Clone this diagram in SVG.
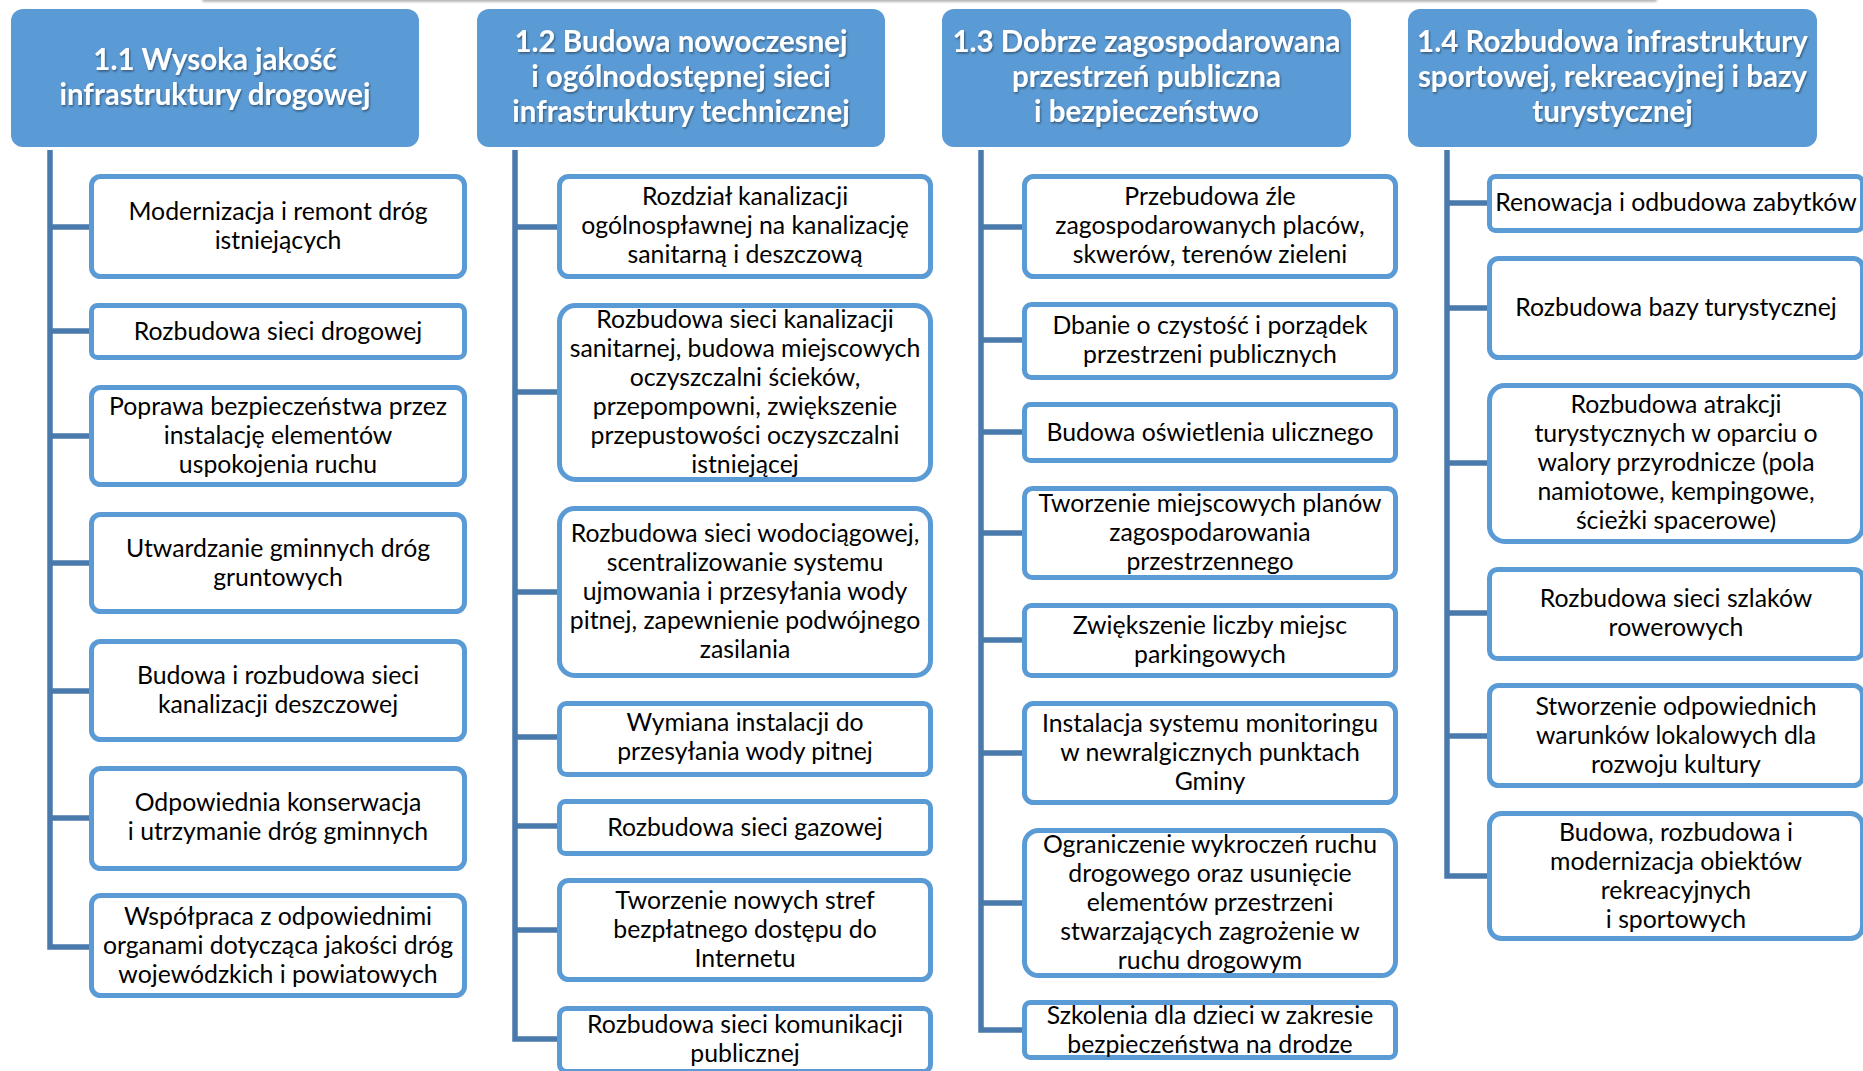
<svg xmlns="http://www.w3.org/2000/svg" width="1863" height="1071" viewBox="0 0 1863 1071">
<defs>
<style>
.hdr{fill:#5b9bd5}
.box{fill:#fff;stroke:#5b9bd5;stroke-width:5}
.ht{font-family:Lato,"Open Sans","Liberation Sans",sans-serif;font-weight:bold;font-size:29.5px;fill:#fff;text-anchor:middle}
.bt{font-family:Lato,"Open Sans","Liberation Sans",sans-serif;font-size:24.8px;fill:#000;text-anchor:middle}
.con{fill:none;stroke:#4a7aab;stroke-width:5.5}
</style>
<filter id="ts" x="-5%" y="-20%" width="110%" height="140%">
<feDropShadow dx="1" dy="1.5" stdDeviation="0.8" flood-color="#000" flood-opacity="0.45"/>
</filter>
<filter id="blur" x="-5%" y="-200%" width="110%" height="500%">
<feGaussianBlur stdDeviation="1.2"/>
</filter>
</defs>
<rect x="0" y="0" width="1863" height="1071" fill="#fff"/>
<rect x="202" y="-3" width="1455" height="5" rx="2" fill="#b8b8b8" filter="url(#blur)"/>

<g id="connectors">
<path class="con" d="M50,150 V949.75 M47.25,227 H90 M47.25,331 H90 M47.25,436 H90 M47.25,563 H90 M47.25,691 H90 M47.25,818 H90 M47.25,947 H90"/>
<path class="con" d="M515,150 V1041.75 M512.25,227 H558 M512.25,392 H558 M512.25,592 H558 M512.25,737 H558 M512.25,826 H558 M512.25,930 H558 M512.25,1039 H558"/>
<path class="con" d="M981,150 V1032.75 M978.25,227 H1023 M978.25,340 H1023 M978.25,432 H1023 M978.25,533 H1023 M978.25,640 H1023 M978.25,753 H1023 M978.25,903 H1023 M978.25,1030 H1023"/>
<path class="con" d="M1447,150 V878.75 M1444.25,203 H1488 M1444.25,308 H1488 M1444.25,463 H1488 M1444.25,613 H1488 M1444.25,736 H1488 M1444.25,876 H1488"/>
</g>

<g id="h1"><rect class="hdr" x="11" y="9" width="408" height="138" rx="12"/>
<g filter="url(#ts)"><text class="ht" x="215" y="70">1.1 Wysoka jakość</text><text class="ht" x="215" y="105">infrastruktury drogowej</text></g></g>
<g id="h2"><rect class="hdr" x="477" y="9" width="408" height="138" rx="12"/>
<g filter="url(#ts)"><text class="ht" x="681" y="52">1.2 Budowa nowoczesnej</text><text class="ht" x="681" y="87">i ogólnodostępnej sieci</text><text class="ht" x="681" y="122">infrastruktury technicznej</text></g></g>
<g id="h3"><rect class="hdr" x="942" y="9" width="409" height="138" rx="12"/>
<g filter="url(#ts)"><text class="ht" x="1146.5" y="52">1.3 Dobrze zagospodarowana</text><text class="ht" x="1146.5" y="87">przestrzeń publiczna</text><text class="ht" x="1146.5" y="122">i bezpieczeństwo</text></g></g>
<g id="h4"><rect class="hdr" x="1408" y="9" width="409" height="138" rx="12"/>
<g filter="url(#ts)"><text class="ht" x="1612.5" y="52">1.4 Rozbudowa infrastruktury</text><text class="ht" x="1612.5" y="87">sportowej, rekreacyjnej i bazy</text><text class="ht" x="1612.5" y="122">turystycznej</text></g></g>

<!-- column 1 -->
<g id="c1b1"><rect class="box" x="91.5" y="176.5" width="373" height="100" rx="9"/><text class="bt" x="278" y="220">Modernizacja i remont dróg</text><text class="bt" x="278" y="249">istniejących</text></g>
<g id="c1b2"><rect class="box" x="91.5" y="305.5" width="373" height="52" rx="6"/><text class="bt" x="278" y="339.5">Rozbudowa sieci drogowej</text></g>
<g id="c1b3"><rect class="box" x="91.5" y="387.5" width="373" height="97" rx="9"/><text class="bt" x="278" y="415">Poprawa bezpieczeństwa przez</text><text class="bt" x="278" y="444">instalację elementów</text><text class="bt" x="278" y="473">uspokojenia ruchu</text></g>
<g id="c1b4"><rect class="box" x="91.5" y="514.5" width="373" height="97" rx="9"/><text class="bt" x="278" y="556.5">Utwardzanie gminnych dróg</text><text class="bt" x="278" y="585.5">gruntowych</text></g>
<g id="c1b5"><rect class="box" x="91.5" y="641.5" width="373" height="98" rx="9"/><text class="bt" x="278" y="684">Budowa i rozbudowa sieci</text><text class="bt" x="278" y="713">kanalizacji deszczowej</text></g>
<g id="c1b6"><rect class="box" x="91.5" y="768.5" width="373" height="100" rx="9"/><text class="bt" x="278" y="811">Odpowiednia konserwacja</text><text class="bt" x="278" y="840">i utrzymanie dróg gminnych</text></g>
<g id="c1b7"><rect class="box" x="91.5" y="895.5" width="373" height="100" rx="9"/><text class="bt" x="278" y="925">Współpraca z odpowiednimi</text><text class="bt" x="278" y="954">organami dotycząca jakości dróg</text><text class="bt" x="278" y="983">wojewódzkich i powiatowych</text></g>

<!-- column 2 -->
<g id="c2b1"><rect class="box" x="559.5" y="176.5" width="371" height="100" rx="9"/><text class="bt" x="745" y="205">Rozdział kanalizacji</text><text class="bt" x="745" y="234">ogólnospławnej na kanalizację</text><text class="bt" x="745" y="263">sanitarną i deszczową</text></g>
<g id="c2b2"><rect class="box" x="559.5" y="305.5" width="371" height="174" rx="16"/><text class="bt" x="745" y="327.5">Rozbudowa sieci kanalizacji</text><text class="bt" x="745" y="356.5">sanitarnej, budowa miejscowych</text><text class="bt" x="745" y="385.5">oczyszczalni ścieków,</text><text class="bt" x="745" y="414.5">przepompowni, zwiększenie</text><text class="bt" x="745" y="443.5">przepustowości oczyszczalni</text><text class="bt" x="745" y="472.5">istniejącej</text></g>
<g id="c2b3"><rect class="box" x="559.5" y="508.5" width="371" height="167" rx="15"/><text class="bt" x="745" y="542">Rozbudowa sieci wodociągowej,</text><text class="bt" x="745" y="571">scentralizowanie systemu</text><text class="bt" x="745" y="600">ujmowania i przesyłania wody</text><text class="bt" x="745" y="629">pitnej, zapewnienie podwójnego</text><text class="bt" x="745" y="658">zasilania</text></g>
<g id="c2b4"><rect class="box" x="559.5" y="703.5" width="371" height="71" rx="7"/><text class="bt" x="745" y="730.5">Wymiana instalacji do</text><text class="bt" x="745" y="759.5">przesyłania wody pitnej</text></g>
<g id="c2b5"><rect class="box" x="559.5" y="801.5" width="371" height="52" rx="6"/><text class="bt" x="745" y="835.5">Rozbudowa sieci gazowej</text></g>
<g id="c2b6"><rect class="box" x="559.5" y="880.5" width="371" height="99" rx="9"/><text class="bt" x="745" y="909">Tworzenie nowych stref</text><text class="bt" x="745" y="938">bezpłatnego dostępu do</text><text class="bt" x="745" y="967">Internetu</text></g>
<g id="c2b7"><rect class="box" x="559.5" y="1008.5" width="371" height="63" rx="7"/><text class="bt" x="745" y="1032.5">Rozbudowa sieci komunikacji</text><text class="bt" x="745" y="1061.5">publicznej</text></g>

<!-- column 3 -->
<g id="c3b1"><rect class="box" x="1024.5" y="176.5" width="371" height="100" rx="9"/><text class="bt" x="1210" y="205">Przebudowa źle</text><text class="bt" x="1210" y="234">zagospodarowanych placów,</text><text class="bt" x="1210" y="263">skwerów, terenów zieleni</text></g>
<g id="c3b2"><rect class="box" x="1024.5" y="304.5" width="371" height="73" rx="7"/><text class="bt" x="1210" y="333.5">Dbanie o czystość i porządek</text><text class="bt" x="1210" y="362.5">przestrzeni publicznych</text></g>
<g id="c3b3"><rect class="box" x="1024.5" y="404.5" width="371" height="56" rx="6"/><text class="bt" x="1210" y="440.5">Budowa oświetlenia ulicznego</text></g>
<g id="c3b4"><rect class="box" x="1024.5" y="488.5" width="371" height="89" rx="8"/><text class="bt" x="1210" y="512">Tworzenie miejscowych planów</text><text class="bt" x="1210" y="541">zagospodarowania</text><text class="bt" x="1210" y="570">przestrzennego</text></g>
<g id="c3b5"><rect class="box" x="1024.5" y="605.5" width="371" height="70" rx="7"/><text class="bt" x="1210" y="633.5">Zwiększenie liczby miejsc</text><text class="bt" x="1210" y="662.5">parkingowych</text></g>
<g id="c3b6"><rect class="box" x="1024.5" y="703.5" width="371" height="99" rx="9"/><text class="bt" x="1210" y="732">Instalacja systemu monitoringu</text><text class="bt" x="1210" y="761">w newralgicznych punktach</text><text class="bt" x="1210" y="790">Gminy</text></g>
<g id="c3b7"><rect class="box" x="1024.5" y="830.5" width="371" height="145" rx="14"/><text class="bt" x="1210" y="853">Ograniczenie wykroczeń ruchu</text><text class="bt" x="1210" y="882">drogowego oraz usunięcie</text><text class="bt" x="1210" y="911">elementów przestrzeni</text><text class="bt" x="1210" y="940">stwarzających zagrożenie w</text><text class="bt" x="1210" y="969">ruchu drogowym</text></g>
<g id="c3b8"><rect class="box" x="1024.5" y="1002.5" width="371" height="55" rx="6"/><text class="bt" x="1210" y="1023.5">Szkolenia dla dzieci w zakresie</text><text class="bt" x="1210" y="1052.5">bezpieczeństwa na drodze</text></g>

<!-- column 4 -->
<g id="c4b1"><rect class="box" x="1489.5" y="176.5" width="373" height="54" rx="6"/><text class="bt" x="1676" y="211">Renowacja i odbudowa zabytków</text></g>
<g id="c4b2"><rect class="box" x="1489.5" y="258.5" width="373" height="99" rx="9"/><text class="bt" x="1676" y="316">Rozbudowa bazy turystycznej</text></g>
<g id="c4b3"><rect class="box" x="1489.5" y="385.5" width="373" height="156" rx="15"/><text class="bt" x="1676" y="413">Rozbudowa atrakcji</text><text class="bt" x="1676" y="442">turystycznych w oparciu o</text><text class="bt" x="1676" y="471">walory przyrodnicze (pola</text><text class="bt" x="1676" y="500">namiotowe, kempingowe,</text><text class="bt" x="1676" y="529">ścieżki spacerowe)</text></g>
<g id="c4b4"><rect class="box" x="1489.5" y="569.5" width="373" height="89" rx="8"/><text class="bt" x="1676" y="606.5">Rozbudowa sieci szlaków</text><text class="bt" x="1676" y="635.5">rowerowych</text></g>
<g id="c4b5"><rect class="box" x="1489.5" y="685.5" width="373" height="100" rx="9"/><text class="bt" x="1676" y="715">Stworzenie odpowiednich</text><text class="bt" x="1676" y="744">warunków lokalowych dla</text><text class="bt" x="1676" y="773">rozwoju kultury</text></g>
<g id="c4b6"><rect class="box" x="1489.5" y="813.5" width="373" height="125" rx="12"/><text class="bt" x="1676" y="840.5">Budowa, rozbudowa i</text><text class="bt" x="1676" y="869.5">modernizacja obiektów</text><text class="bt" x="1676" y="898.5">rekreacyjnych</text><text class="bt" x="1676" y="927.5">i sportowych</text></g>
</svg>
